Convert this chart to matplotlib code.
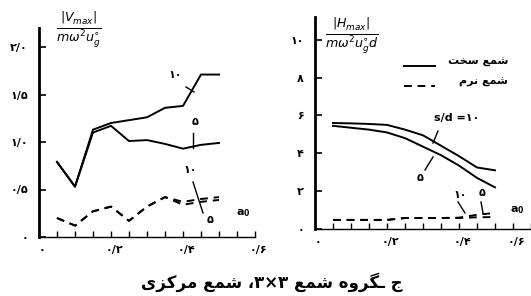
import matplotlib
matplotlib.use("Agg")
import matplotlib.pyplot as plt
from matplotlib.lines import Line2D

plt.rcParams['font.family'] = ['DejaVu Sans']

# data
a0 = [0.05, 0.10, 0.15, 0.20, 0.25, 0.30, 0.35, 0.40, 0.45, 0.50]

v_rigid_10 = [0.79, 0.53, 1.13, 1.20, 1.23, 1.26, 1.36, 1.38, 1.71, 1.71]
v_rigid_5 = [0.79, 0.53, 1.10, 1.17, 1.01, 1.02, 0.98, 0.93, 0.97, 0.99]
v_soft_10 = [0.20, 0.12, 0.27, 0.32, 0.17, 0.32, 0.42, 0.37, 0.40, 0.42]
v_soft_5 = [0.20, 0.12, 0.27, 0.32, 0.17, 0.32, 0.42, 0.34, 0.37, 0.39]

h_rigid_10 = [5.60, 5.58, 5.55, 5.50, 5.25, 4.95, 4.40, 3.85, 3.25, 3.10]
h_rigid_5 = [5.45, 5.35, 5.25, 5.10, 4.80, 4.35, 3.90, 3.35, 2.70, 2.20]
h_soft_10 = [0.48, 0.48, 0.48, 0.48, 0.58, 0.58, 0.58, 0.60, 0.75, 0.85]
h_soft_5 = [0.48, 0.48, 0.48, 0.48, 0.58, 0.58, 0.58, 0.58, 0.62, 0.63]

x_ticks = [0.0, 0.2, 0.4, 0.6]
x_labels = ["۰", "۰/۲", "۰/۴", "۰/۶"]
v_ticks = [0.0, 0.5, 1.0, 1.5, 2.0]
v_labels = ["۰", "۰/۵", "۱/۰", "۱/۵", "۲/۰"]
h_ticks = [0, 2, 4, 6, 8, 10]
h_labels = ["۰", "۲", "۴", "۶", "۸", "۱۰"]

caption = "ج ـگروه شمع ۳×۳، شمع مرکزی"
rigid_label = "شمع سخت"
soft_label = "شمع نرم"

# simple arabic shaping (matplotlib has no bidi / joining support)
FORMS = {
    "ج": "\uFE9D\uFE9E\uFE9F\uFEA0",
    "گ": "\uFB92\uFB93\uFB94\uFB95",
    "ر": "\uFEAD\uFEAE",
    "و": "\uFEED\uFEEE",
    "ه": "\uFEE9\uFEEA\uFEEB\uFEEC",
    "ش": "\uFEB5\uFEB6\uFEB7\uFEB8",
    "م": "\uFEE1\uFEE2\uFEE3\uFEE4",
    "ع": "\uFEC9\uFECA\uFECB\uFECC",
    "ک": "\uFB8E\uFB8F\uFB90\uFB91",
    "ز": "\uFEAF\uFEB0",
    "ی": "\uFBFC\uFBFD\uFBFE\uFBFF",
    "س": "\uFEB1\uFEB2\uFEB3\uFEB4",
    "خ": "\uFEA5\uFEA6\uFEA7\uFEA8",
    "ت": "\uFE95\uFE96\uFE97\uFE98",
    "ن": "\uFEE5\uFEE6\uFEE7\uFEE8",
}
TATWEEL = "\u0640"


def joins_left(c):
    return c == TATWEEL or (c in FORMS and len(FORMS[c]) == 4)


def shape(text):
    out = []
    for i, c in enumerate(text):
        if c not in FORMS:
            out.append(c)
            continue
        prev = text[i - 1] if i > 0 else ""
        nxt = text[i + 1] if i < len(text) - 1 else ""
        p = joins_left(prev)
        q = (nxt in FORMS or nxt == TATWEEL) and len(FORMS[c]) == 4
        f = FORMS[c]
        if p and q:
            out.append(f[3])
        elif p:
            out.append(f[1])
        elif q:
            out.append(f[2])
        else:
            out.append(f[0])
    return "".join(reversed(out))


W, H = 531, 296
fig = plt.figure(figsize=(W / 100, H / 100), dpi=100)


def P(x, y):
    # pixel position -> figure fraction
    return x / W, 1 - y / H


def leader(xs, ys):
    fx = [x / W for x in xs]
    fy = [1 - y / H for y in ys]
    fig.add_artist(Line2D(fx, fy, transform=fig.transFigure, color="black", lw=1.0))


def style_axes(ax):
    ax.spines["top"].set_visible(False)
    ax.spines["right"].set_visible(False)
    ax.spines["left"].set_linewidth(2.0)
    ax.spines["bottom"].set_linewidth(1.0)
    ax.set_xlim(0, 0.6)
    ax.set_xticks([0.05 * i for i in range(1, 13)])
    ax.set_xticklabels([])
    ax.tick_params(axis="x", which="major", direction="in", length=4, width=1)
    ax.tick_params(axis="y", direction="in", length=5, width=1.2, pad=8,
                   labelsize=8)
    for y in ax.get_yticklabels():
        y.set_fontweight("bold")
    ax.patch.set_alpha(0)


solid = dict(color="black", lw=1.4)
dashed = dict(color="black", lw=1.4, ls=(0, (4, 3)))

# left panel: |V_max|
axl = fig.add_axes([39 / W, (H - 237) / H, 216 / W, 209 / H])
axl.plot(a0, v_rigid_10, **solid)
axl.plot(a0, v_rigid_5, **solid)
axl.plot(a0, v_soft_10, **dashed)
axl.plot(a0, v_soft_5, **dashed)
axl.set_ylim(0, 2.2)
axl.set_yticks(v_ticks)
axl.set_yticklabels(v_labels)
style_axes(axl)

# right panel: |H_max|
axr = fig.add_axes([315 / W, (H - 229) / H, 216 / W, 212 / H])
axr.plot(a0, h_rigid_10, **solid)
axr.plot(a0, h_rigid_5, **solid)
axr.plot(a0, h_soft_10, **dashed)
axr.plot(a0, h_soft_5, **dashed)
axr.set_ylim(0, 11.2)
axr.set_yticks(h_ticks)
axr.set_yticklabels(h_labels)
style_axes(axr)

# x tick labels, set a little below the axis as in the scan
for ax, x0, ybase in [(axl, 39, 250), (axr, 315, 242)]:
    for v, lab in zip(x_ticks, x_labels):
        xp = min(x0 + v * 360 + 3, 516)
        fig.text(*P(xp, ybase), lab, ha="center", va="center",
                 fontsize=8, fontweight="bold")

# axis captions
fig.text(*P(79, 30), r"$\frac{|V_{max}|}{m\omega^2 u^{\circ}_{g}}$",
         ha="center", va="center", fontsize=13)
fig.text(*P(352, 36), r"$\frac{|H_{max}|}{m\omega^2 u^{\circ}_{g} d}$",
         ha="center", va="center", fontsize=13)
fig.text(*P(243, 213), r"$\mathbf{a_0}$", ha="center", va="center", fontsize=8)
fig.text(*P(517, 210), r"$\mathbf{a_0}$", ha="center", va="center", fontsize=8)

# legend
fig.text(*P(508, 62), shape(rigid_label), ha="right", va="center",
         fontsize=8, fontweight="bold")
fig.text(*P(508, 82), shape(soft_label), ha="right", va="center",
         fontsize=8, fontweight="bold")
fig.add_artist(Line2D([404 / W, 435 / W], [1 - 66 / H] * 2,
                      transform=fig.transFigure, **solid))
fig.add_artist(Line2D([404 / W, 435 / W], [1 - 86 / H] * 2,
                      transform=fig.transFigure, **dashed))

# curve labels, left
fig.text(*P(175, 75), "۱۰", ha="center", va="center", fontsize=8, fontweight="bold")
leader([186, 194], [87, 92])
fig.text(*P(195, 122), "۵", ha="center", va="center", fontsize=8, fontweight="bold")
leader([193, 193], [133, 148])
fig.text(*P(190, 170), "۱۰", ha="center", va="center", fontsize=8, fontweight="bold")
leader([193, 203], [182, 213])
fig.text(*P(210, 220), "۵", ha="center", va="center", fontsize=8, fontweight="bold")

# curve labels, right
fig.text(*P(457, 118), "s/d =۱۰", ha="center", va="center", fontsize=8,
         fontweight="bold")
leader([433, 438], [143, 131])
fig.text(*P(420, 178), "۵", ha="center", va="center", fontsize=8, fontweight="bold")
leader([425, 433], [170, 157])
fig.text(*P(460, 195), "۱۰", ha="center", va="center", fontsize=8, fontweight="bold")
leader([458, 465], [202, 213])
fig.text(*P(482, 193), "۵", ha="center", va="center", fontsize=8, fontweight="bold")
leader([481, 483], [202, 213])

fig.text(*P(272, 282), shape(caption), ha="center", va="center",
         fontsize=12, fontweight="bold")

fig.savefig("out.png", dpi=100)
